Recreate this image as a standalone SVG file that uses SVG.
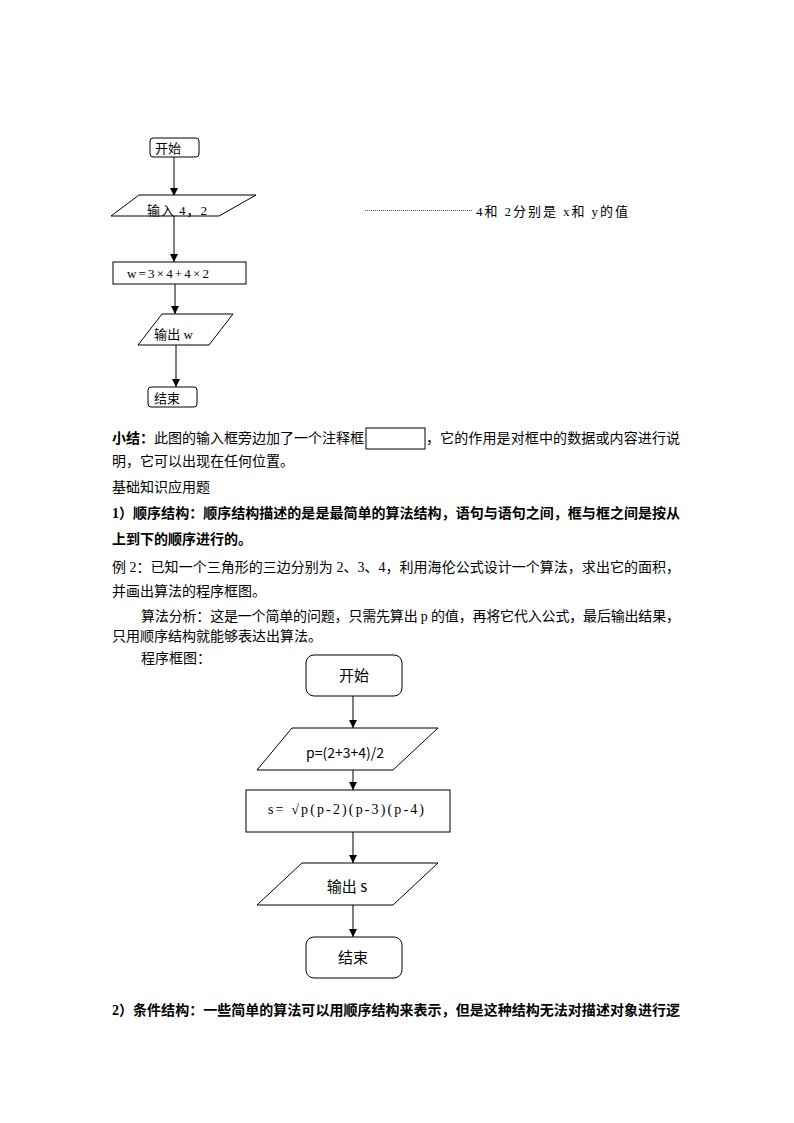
<svg xmlns="http://www.w3.org/2000/svg" width="794" height="1123" viewBox="0 0 794 1123">
<defs>
<marker id="ah" viewBox="0 0 10 10" refX="10" refY="5" markerWidth="8" markerHeight="8" markerUnits="userSpaceOnUse" orient="auto">
<path d="M0,0 L10,5 L0,10 z" fill="#000"/>
</marker>
<style>
.shp{fill:#fff;stroke:#000;stroke-width:1}
.con{stroke:#000;stroke-width:1;fill:none;marker-end:url(#ah)}
.t{font-family:"Liberation Serif","Noto Sans CJK SC",serif;fill:#000}
.s{font-family:"Noto Sans CJK SC","Liberation Sans",sans-serif;fill:#000}
.p{font-family:"Liberation Serif","Noto Sans CJK SC",serif;font-size:14px;fill:#000}
.b{font-weight:bold}
</style>
</defs>
<rect width="794" height="1123" fill="#fff"/>

<!-- top flowchart -->
<g id="connectors1">
<line class="con" x1="174" y1="157" x2="174" y2="196"/>
<line class="con" x1="174" y1="216" x2="174" y2="262"/>
<line class="con" x1="175" y1="284" x2="175" y2="314"/>
<line class="con" x1="176" y1="345" x2="176" y2="387"/>
</g>
<g id="start1">
<rect class="shp" x="150" y="138" width="49" height="19" rx="3"/>
<text class="s" x="155" y="153" font-size="13">开始</text>
</g>
<g id="input1">
<polygon class="shp" points="139,195 256,195 219,216 111,216"/>
<text class="t" x="147" y="215" font-size="13" textLength="60" lengthAdjust="spacing">输入 4，2</text>
</g>
<g id="proc1">
<rect class="shp" x="113" y="262" width="133" height="22"/>
<text class="t" x="127" y="278" font-size="13" textLength="82" lengthAdjust="spacing">w=3×4+4×2</text>
</g>
<g id="output1">
<polygon class="shp" points="162,314 233,314 209,345 138,345"/>
<text class="t" x="154" y="339" font-size="13" textLength="39" lengthAdjust="spacing">输出 w</text>
</g>
<g id="end1">
<rect class="shp" x="148" y="387" width="49" height="20" rx="3"/>
<text class="s" x="154" y="403" font-size="13">结束</text>
</g>
<g id="note">
<line x1="365" y1="210.5" x2="472" y2="210.5" stroke="#555" stroke-width="1" stroke-dasharray="1,1"/>
<text class="t" x="476" y="216" font-size="13" textLength="152" lengthAdjust="spacing">4和 2分别是 x和 y的值</text>
</g>

<!-- paragraph text -->
<g id="text">
<text class="p" x="112" y="443"><tspan class="b">小结：</tspan>此图的输入框旁边加了一个注释框</text>
<rect x="366" y="428" width="59" height="21" fill="none" stroke="#000" stroke-width="1"/>
<text class="p" x="426" y="443" textLength="254" lengthAdjust="spacing">，它的作用是对框中的数据或内容进行说</text>
<text class="p" x="112" y="466">明，它可以出现在任何位置。</text>
<text class="p" x="112" y="492">基础知识应用题</text>
<text class="p b" x="112" y="518" textLength="568" lengthAdjust="spacing">1）顺序结构：顺序结构描述的是是最简单的算法结构，语句与语句之间，框与框之间是按从</text>
<text class="p b" x="112" y="544">上到下的顺序进行的。</text>
<text class="p" x="112" y="572" textLength="568" lengthAdjust="spacing">例 2：已知一个三角形的三边分别为 2、3、4，利用海伦公式设计一个算法，求出它的面积，</text>
<text class="p" x="112" y="596">并画出算法的程序框图。</text>
<text class="p" x="141" y="621" textLength="539" lengthAdjust="spacing">算法分析：这是一个简单的问题，只需先算出 p 的值，再将它代入公式，最后输出结果，</text>
<text class="p" x="112" y="641">只用顺序结构就能够表达出算法。</text>
<text class="p" x="141" y="663">程序框图：</text>
<text class="p b" x="112" y="1015" textLength="568" lengthAdjust="spacing">2）条件结构：一些简单的算法可以用顺序结构来表示，但是这种结构无法对描述对象进行逻</text>
</g>

<!-- bottom flowchart -->
<g id="connectors2">
<line class="con" x1="353" y1="696" x2="353" y2="728"/>
<line class="con" x1="353" y1="770" x2="353" y2="790"/>
<line class="con" x1="353" y1="832" x2="353" y2="863"/>
<line class="con" x1="353" y1="905" x2="353" y2="937"/>
</g>
<g id="start2">
<rect class="shp" x="306" y="655" width="96" height="41" rx="8"/>
<text class="s" x="354" y="681" font-size="15" text-anchor="middle">开始</text>
</g>
<g id="input2">
<polygon class="shp" points="292,728 438,728 393,770 257,770"/>
<text class="s" x="345" y="758" font-size="14" text-anchor="middle">p=(2+3+4)/2</text>
</g>
<g id="proc2">
<rect class="shp" x="246" y="790" width="204" height="42"/>
<text class="t" x="268" y="814" font-size="14" textLength="156" lengthAdjust="spacing">s= √p(p-2)(p-3)(p-4)</text>
</g>
<g id="output2">
<polygon class="shp" points="302,863 438,863 393,905 257,905"/>
<text class="s" x="347" y="892" font-size="15" text-anchor="middle">输出 s</text>
</g>
<g id="end2">
<rect class="shp" x="306" y="937" width="96" height="41" rx="8"/>
<text class="s" x="353" y="963" font-size="15" text-anchor="middle">结束</text>
</g>
</svg>
